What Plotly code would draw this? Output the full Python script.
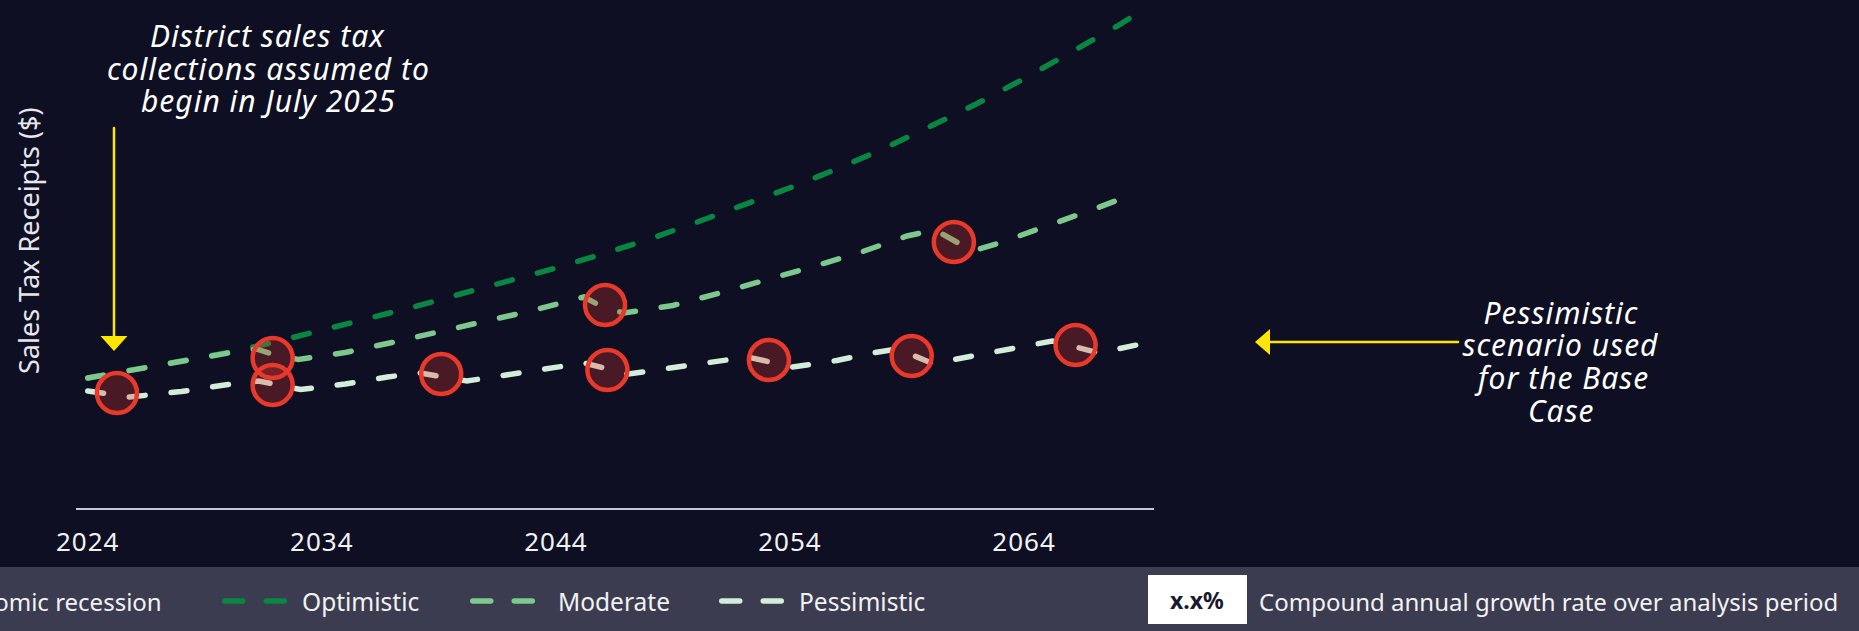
import plotly.graph_objects as go

# ---------------- data ----------------
optimistic_years = [2024, 2026, 2028, 2030, 2032, 2034, 2036, 2038, 2040, 2042, 2044, 2046,
                    2048, 2050, 2052, 2054, 2056, 2058, 2060, 2062, 2064, 2066, 2068, 2068.8]
optimistic_vals = [130, 138.5, 146.5, 155.5, 166, 177.5, 189.5, 201.5, 214.5, 227, 240, 254,
                   269, 285.6, 302.6, 320.2, 339, 359.3, 381.7, 404.5, 429.3, 455.3, 482.2, 494]

moderate_years = [2024, 2026, 2028, 2030, 2031.2, 2032, 2033, 2035, 2037, 2039, 2041, 2043,
                  2045.2, 2046, 2046.9, 2049, 2051, 2053, 2055, 2057, 2059, 2060.2, 2061,
                  2061.8, 2063, 2065, 2067, 2068.8]
moderate_vals = [130, 138.5, 146.5, 155, 159, 153, 148.5, 155.5, 165.5, 176, 186.5, 197.5,
                 211, 201, 195, 202.5, 215, 228, 241.5, 255.6, 272, 278, 267,
                 257, 265.5, 282, 299, 315]

pessimistic_years = [2024, 2025.8, 2026.6, 2028, 2030, 2031.3, 2033.1, 2035, 2036.8, 2038.2,
                     2040.2, 2042, 2043.8, 2045.2, 2047.1, 2049, 2051, 2052.2, 2054.1, 2056,
                     2057.5, 2058.6, 2060.1, 2062, 2064, 2065.2, 2067.2, 2068.8]
pessimistic_vals = [117, 111, 113, 116.5, 123.5, 127, 118.5, 124, 131, 135,
                    127, 133, 140, 145, 134, 140, 147.5, 151, 141, 147.5,
                    155, 159, 144.5, 153, 162, 167, 155, 163]

recession_years = [2025.25, 2031.9, 2031.9, 2039.1, 2046.1, 2046.2, 2053.1, 2059.2, 2061.0, 2066.2]
recession_vals = [115, 150, 123, 134, 203, 138, 148, 152, 266, 163]

tick_years = [2024, 2034, 2044, 2054, 2064]
tick_labels = ["2024", "2034", "2044", "2054", "2064"]

note_lines = ["District sales tax", "collections assumed to", "begin in July 2025"]
base_lines = ["Pessimistic", "scenario used", "for the Base", "Case"]

# ---------------- style ----------------
BG = "#0e0f23"
BAND = "#3c3c50"
OPT = "#088742"
MOD = "#7dc88c"
PES = "#d4ecda"
RED = "#e8392b"
YEL = "#ffe600"
FONT = "Noto Sans"
DASH = "16px,26px"
LW = 5.5

W, H = 1859, 631
ML, MR, MT, MB = 76, 705, 0, 123
PW = W - ML - MR
PH = H - MT - MB


def px(x):
    return (x - ML) / PW


def py(y):
    return (MT + PH - y) / PH


fig = go.Figure()
for yrs, vals, col in [(optimistic_years, optimistic_vals, OPT),
                       (moderate_years, moderate_vals, MOD),
                       (pessimistic_years, pessimistic_vals, PES)]:
    fig.add_trace(go.Scatter(x=yrs, y=vals, mode="lines",
                             line=dict(color=col, width=LW, dash=DASH),
                             showlegend=False, hoverinfo="skip"))

fig.add_trace(go.Scatter(x=recession_years, y=recession_vals, mode="markers",
                         marker=dict(size=40, color="rgba(232,57,43,0.27)",
                                     line=dict(color=RED, width=4.5)),
                         showlegend=False, hoverinfo="skip", cliponaxis=False))

shapes = []
annotations = []

# legend band
shapes.append(dict(type="rect", xref="paper", yref="paper", x0=-1, x1=2,
                   y0=py(640), y1=py(567), fillcolor=BAND, line=dict(width=0), layer="below"))

# arrows
shapes.append(dict(type="line", xref="paper", yref="paper", x0=px(114), x1=px(114),
                   y0=py(128), y1=py(338), line=dict(color=YEL, width=2.5)))
shapes.append(dict(type="path", xref="paper", yref="paper",
                   path=f"M{px(100.5)},{py(336)} L{px(127.5)},{py(336)} L{px(114)},{py(351)} Z",
                   fillcolor=YEL, line=dict(width=0)))
shapes.append(dict(type="line", xref="paper", yref="paper", x0=px(1458), x1=px(1268),
                   y0=py(342), y1=py(342), line=dict(color=YEL, width=2.5)))
shapes.append(dict(type="path", xref="paper", yref="paper",
                   path=f"M{px(1270)},{py(329)} L{px(1270)},{py(355)} L{px(1255)},{py(342)} Z",
                   fillcolor=YEL, line=dict(width=0)))

# legend samples
LEG_Y = 601
for (a, b), col in [((222, 287), OPT), ((470, 535), MOD), ((719, 784), PES)]:
    seg = 23.5
    for s in (a, b - seg):
        shapes.append(dict(type="line", xref="paper", yref="paper",
                           x0=px(s + LW / 2), x1=px(s + seg - LW / 2),
                           y0=py(LEG_Y), y1=py(LEG_Y), line=dict(color=col, width=LW)))

# white box
shapes.append(dict(type="rect", xref="paper", yref="paper", x0=px(1148), x1=px(1247),
                   y0=py(624), y1=py(575), fillcolor="#ffffff", line=dict(width=0)))


def txt(text, x, y, size, xanchor="center", color="#ffffff", angle=0, italic=False, bold=False):
    if italic:
        text = f"<i>{text}</i>"
    if bold:
        text = f"<b>{text}</b>"
    annotations.append(dict(text=text,
                            xref="paper", yref="paper", x=px(x), y=py(y),
                            xanchor=xanchor, yanchor="middle", showarrow=False,
                            align=xanchor if xanchor != "center" else "center",
                            textangle=angle,
                            font=dict(family=FONT, size=size, color=color)))


for i, line in enumerate(note_lines):
    txt(line, 268, 36 + 32.5 * i, 30, italic=True)
for i, line in enumerate(base_lines):
    txt(line, 1561, 312 + 32.7 * i, 30, italic=True)
n_spaced = len(annotations)

txt("Sales Tax Receipts ($)", 28, 241, 27, color="#e6e6ec", angle=-90)

txt("Economic recession", 164, LEG_Y, 24, xanchor="right", color="#f2f2f4")
txt("Optimistic", 300, LEG_Y, 24.5, xanchor="left", color="#f2f2f4")
txt("Moderate", 556, LEG_Y, 24.5, xanchor="left", color="#f2f2f4")
txt("Pessimistic", 797, LEG_Y, 24.5, xanchor="left", color="#f2f2f4")
txt("x.x%", 1197, 600, 23, color="#1a1a2e", bold=True)
txt("Compound annual growth rate over analysis period", 1257, LEG_Y, 24,
    xanchor="left", color="#f2f2f4")

fig.update_layout(
    width=W, height=H,
    margin=dict(l=ML, r=MR, t=MT, b=MB, pad=0),
    paper_bgcolor=BG, plot_bgcolor=BG,
    shapes=shapes, annotations=annotations,
    showlegend=False,
    xaxis=dict(range=[2023.5, 2069.55], tickvals=tick_years, ticktext=tick_labels,
               showgrid=False, zeroline=False, showline=True, linecolor="#c8c8d0",
               linewidth=2, ticks="outside", ticklen=10, tickcolor="rgba(0,0,0,0)",
               tickfont=dict(family=FONT, size=26, color="#f2f2f4"), fixedrange=True),
    yaxis=dict(range=[0, PH], visible=False, fixedrange=True),
)

sel = ",".join(f'g.annotation[data-index="{i}"] text' for i in range(n_spaced))
css = ".js-line,.shapelayer path{stroke-linecap:round}" + sel + ",.xtick text{letter-spacing:1px}"
post = ("var s=document.createElement('style');"
        f"s.textContent='{css}';"
        "document.head.appendChild(s);")
fig.write_html("out.html", post_script=post, config={"displayModeBar": False})
